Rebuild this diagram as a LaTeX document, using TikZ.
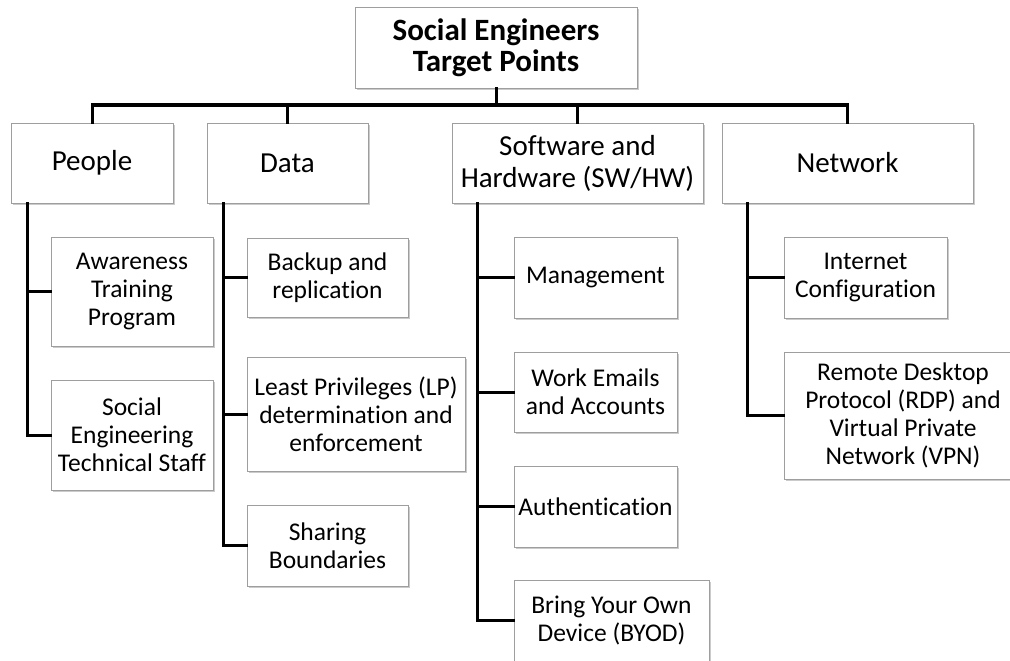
\documentclass[tikz,border=0pt]{standalone}
\usepackage{fontspec}
\setmainfont[Ligatures={NoCommon}]{Carlito}
\usetikzlibrary{shadows}
\begin{document}
\begin{tikzpicture}[x=1pt,y=-1pt,
  box/.style={draw=black!38, fill=white, line width=0.9pt, align=center, inner sep=0pt,
    drop shadow={shadow xshift=1.6pt, shadow yshift=-1.8pt, fill=black!45, opacity=0.45},
    font=\fontsize{25.5}{28}\selectfont},
  topbox/.style={box, font=\fontsize{29}{32}\selectfont},
  titlebox/.style={box, font=\fontsize{31}{31}\selectfont\bfseries},
  conn/.style={line width=3pt, line cap=rect}]
\useasboundingbox (0,0) rectangle (1010,661);
% title
\node[titlebox, minimum width=282, minimum height=81] (title) at (496,47.5) {Social Engineers\\Target Points};
% top level
\node[topbox, minimum width=162, minimum height=80] (people) at (92,163) {People};
\node[topbox, minimum width=161, minimum height=80] (data) at (287.5,163) {Data};
\node[topbox, minimum width=251, minimum height=80] (sw) at (577.5,163) {Software and\\Hardware (SW/HW)};
\node[topbox, minimum width=251, minimum height=80] (net) at (847.5,163) {Network};
% people children
\node[box, minimum width=162, minimum height=109] (aware) at (132,291.5) {Awareness\\Training\\Program};
\node[box, minimum width=162, minimum height=110] (soceng) at (132,435) {Social\\Engineering\\Technical Staff};
% data children
\node[box, minimum width=161, minimum height=79] (backup) at (327.5,277.5) {Backup and\\replication};
\node[box, minimum width=218, minimum height=114] (lp) at (356,414) {Least Privileges (LP)\\determination and\\enforcement};
\node[box, minimum width=161, minimum height=81] (sharing) at (327.5,545.5) {Sharing\\Boundaries};
% sw children
\node[box, minimum width=163, minimum height=81] (mgmt) at (595.5,277.5) {Management};
\node[box, minimum width=163, minimum height=80] (work) at (595.5,392) {Work Emails\\and Accounts};
\node[box, minimum width=163, minimum height=81] (auth) at (595.5,506.5) {Authentication};
\node[box, minimum width=195, minimum height=81] (byod) at (611.5,620.5) {Bring Your Own\\Device (BYOD)};
% network children
\node[box, minimum width=163, minimum height=81] (inet) at (865.5,277.5) {Internet\\Configuration};
\node[box, minimum width=238, minimum height=127] (rdp) at (903,415.5) {Remote Desktop\\Protocol (RDP) and\\Virtual Private\\Network (VPN)};
% bus
\coordinate (bus) at (496,105);
\draw[conn] (title.south) -- (bus);
\draw[conn] (bus) -| (people.north);
\draw[conn] (bus) -| (data.north);
\draw[conn] (bus) -| (sw.north);
\draw[conn] (bus) -| (net.north);
% spines
\coordinate (ps) at (27,203);
\coordinate (ds) at (223,203);
\coordinate (ss) at (477,203);
\coordinate (ns) at (747,203);
\draw[conn] (ps) |- (aware.west);
\draw[conn] (ps) |- (soceng.west);
\draw[conn] (ds) |- (backup.west);
\draw[conn] (ds) |- (lp.west);
\draw[conn] (ds) |- (sharing.west);
\draw[conn] (ss) |- (mgmt.west);
\draw[conn] (ss) |- (work.west);
\draw[conn] (ss) |- (auth.west);
\draw[conn] (ss) |- (byod.west);
\draw[conn] (ns) |- (inet.west);
\draw[conn] (ns) |- (rdp.west);
\end{tikzpicture}
\end{document}
